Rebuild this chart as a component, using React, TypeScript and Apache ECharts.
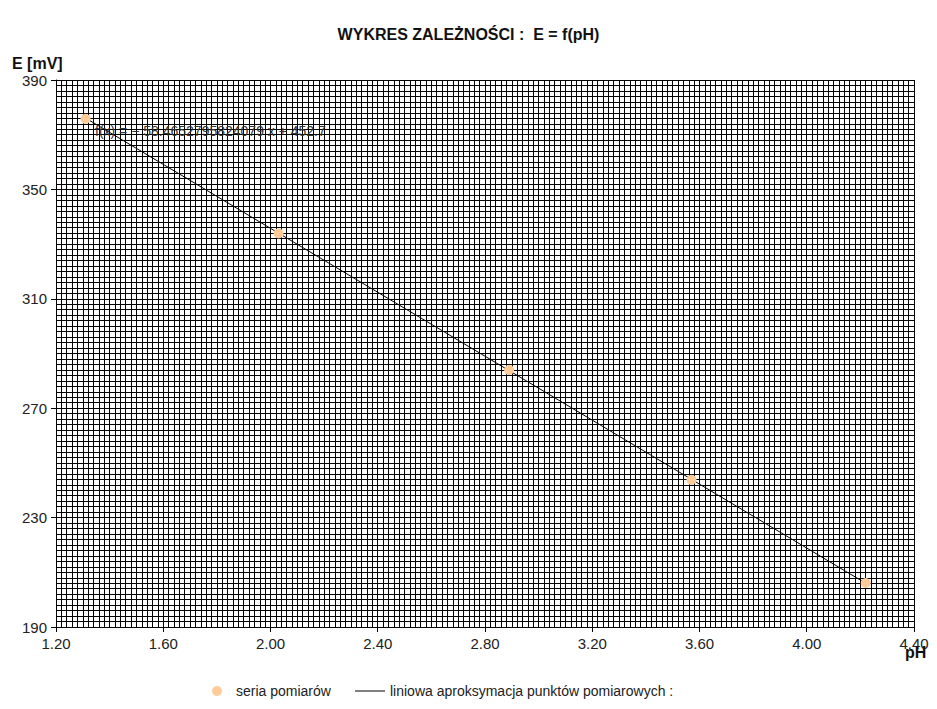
import React, { useEffect, useRef } from "react";
import * as echarts from "echarts";

const pH = [1.31, 2.03, 2.89, 3.57, 4.22];
const E = [375.8, 333.9, 284.0, 243.8, 206.1];
const trendX = [1.31, 4.22];
const trendY = [376.1, 206.0];
const equationText = "f(x) = − 58.4652795824079 x + 452.7";
const titleText = "WYKRES ZALEŻNOŚCI :  E = f(pH)";
const xName = "pH";
const yName = "E [mV]";
const seriesName = "seria pomiarów";
const trendName = "liniowa aproksymacja punktów pomiarowych :";

export default function App() {
  const ref = useRef<HTMLDivElement>(null);
  useEffect(() => {
    if (!ref.current) return;
    const chart = echarts.init(ref.current, null, { renderer: "svg" });
    const font = "'Liberation Sans', Arial, sans-serif";
    chart.setOption({
      animation: false,
      backgroundColor: "#ffffff",
      textStyle: { fontFamily: font },
      title: {
        text: titleText,
        left: "center",
        top: 21,
        textStyle: { fontSize: 16, fontWeight: "bold", color: "#111", fontFamily: font },
      },
      grid: {
        left: 56,
        right: 23,
        top: 80,
        bottom: 82,
        containLabel: false,
        outerBoundsMode: "none",
        show: false,
      },
      legend: [
        {
          data: [{ name: seriesName, icon: "circle" }],
          left: 207,
          top: 679,
          itemWidth: 10,
          itemHeight: 10,
          textStyle: { fontSize: 14, color: "#222", fontFamily: font, padding: [0, 0, 0, 9] },
        },
        {
          data: [{ name: trendName, icon: "rect" }],
          left: 350,
          top: 679,
          itemWidth: 30,
          itemHeight: 1,
          textStyle: { fontSize: 14, color: "#222", fontFamily: font },
        },
      ],
      xAxis: {
        type: "value",
        min: 1.2,
        max: 4.4,
        interval: 0.4,
        axisLine: { show: true, onZero: false, lineStyle: { color: "#000", width: 1 } },
        axisTick: { show: true, length: 5, lineStyle: { color: "#000" } },
        axisLabel: {
          fontSize: 15,
          color: "#222",
          margin: 9,
          formatter: (v: number) => v.toFixed(2),
        },
        splitLine: { show: true, lineStyle: { color: "#000", width: 1 } },
        minorTick: { show: false, splitNumber: 20 },
        minorSplitLine: { show: true, lineStyle: { color: "#000", width: 1 } },
      },
      yAxis: {
        type: "value",
        min: 190,
        max: 390,
        interval: 40,
        name: yName,
        nameLocation: "end",
        nameGap: 9,
        nameTextStyle: {
          fontSize: 16,
          fontWeight: "bold",
          color: "#111",
          align: "left",
          padding: [0, 0, 0, -44],
        },
        axisLine: { show: true, lineStyle: { color: "#000", width: 1 } },
        axisTick: { show: true, length: 5, lineStyle: { color: "#000" } },
        axisLabel: { fontSize: 15, color: "#222", margin: 9 },
        splitLine: { show: true, lineStyle: { color: "#000", width: 1 } },
        minorTick: { show: false, splitNumber: 20 },
        minorSplitLine: { show: true, lineStyle: { color: "#000", width: 1 } },
      },
      series: [
        {
          name: trendName,
          type: "line",
          data: trendX.map((x, i) => [x, trendY[i]]),
          showSymbol: false,
          symbol: "none",
          itemStyle: { color: "#000" },
          lineStyle: { color: "#000", width: 1 },
          z: 3,
        },
        {
          name: seriesName,
          type: "scatter",
          data: pH.map((x, i) => [x, E[i]]),
          symbol: "circle",
          symbolSize: 10,
          itemStyle: { color: "#ffcc99", opacity: 1 },
          z: 4,
        },
      ],
      graphic: [
        {
          type: "text",
          left: 95,
          top: 124,
          z: 10,
          style: {
            text: equationText,
            fill: "#333",
            font: `14px ${font}`,
          },
        },
        {
          type: "text",
          left: 905,
          top: 644,
          z: 10,
          style: {
            text: xName,
            fill: "#111",
            font: `bold 16px ${font}`,
          },
        },
      ],
    });
    return () => chart.dispose();
  }, []);
  return (
    <div
      ref={ref}
      style={{ position: "fixed", left: 0, top: 0, width: 937, height: 709 }}
    />
  );
}
